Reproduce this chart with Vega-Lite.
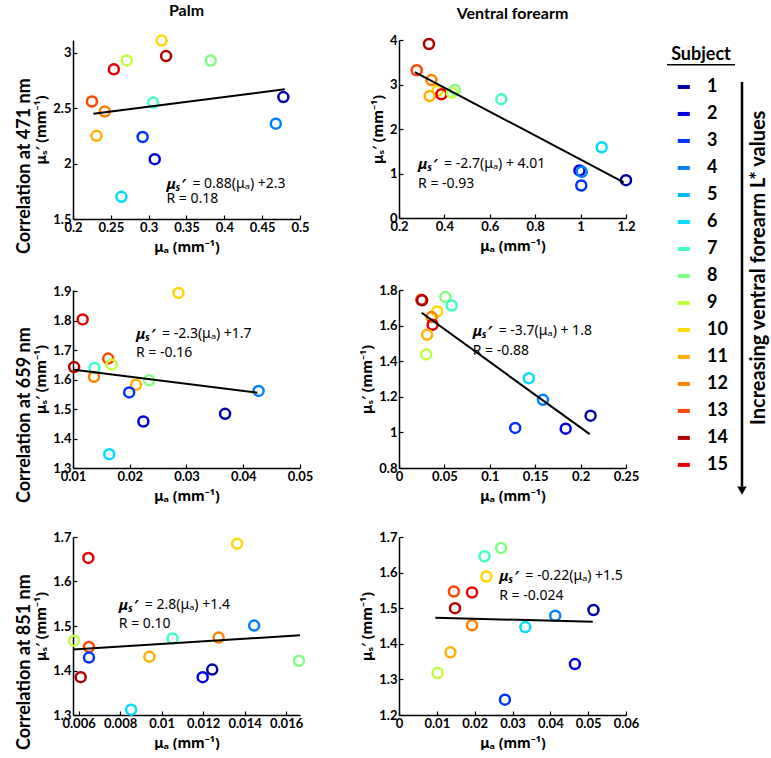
{
 "$schema": "https://vega.github.io/schema/vega-lite/v6.json",
 "padding": {"left": 15, "top": 2, "right": 0, "bottom": 0},
 "background": "white",
 "config": {
  "font": "Lato",
  "view": {"stroke": null},
  "axis": {"labelFont": "Lato", "labelFontWeight": "bold", "labelFontSize": 13, "labelColor": "black", "labelOverlap": false, "labelFlush": false, "tickCount": 12, "titleFont": "Noto Sans", "titleFontWeight": "bold", "titleFontSize": 14, "titleColor": "black", "domainColor": "black", "domainWidth": 1.5, "tickColor": "black", "tickSize": -4, "tickWidth": 1.2, "labelPadding": 6, "grid": false},
  "axisX": {"titlePadding": 6},
  "axisY": {"titlePadding": 4},
  "title": {"font": "Lato", "fontWeight": "bold", "color": "black"},
  "text": {"font": "Noto Sans", "color": "black"}
 },
 "datasets": {
  "p1": [
   {"subject": 10, "mua": 0.317, "mus": 3.11}, {"subject": 14, "mua": 0.323, "mus": 2.97}, {"subject": 9, "mua": 0.271, "mus": 2.93},
   {"subject": 8, "mua": 0.382, "mus": 2.93}, {"subject": 15, "mua": 0.254, "mus": 2.85}, {"subject": 13, "mua": 0.225, "mus": 2.56},
   {"subject": 12, "mua": 0.242, "mus": 2.47}, {"subject": 7, "mua": 0.306, "mus": 2.55}, {"subject": 11, "mua": 0.231, "mus": 2.25},
   {"subject": 3, "mua": 0.292, "mus": 2.24}, {"subject": 2, "mua": 0.308, "mus": 2.04}, {"subject": 6, "mua": 0.264, "mus": 1.7},
   {"subject": 1, "mua": 0.478, "mus": 2.6}, {"subject": 4, "mua": 0.468, "mus": 2.36}
  ],
  "p2": [
   {"subject": 14, "mua": 0.332, "mus": 3.91}, {"subject": 13, "mua": 0.278, "mus": 3.32}, {"subject": 12, "mua": 0.343, "mus": 3.1},
   {"subject": 10, "mua": 0.37, "mus": 2.86}, {"subject": 11, "mua": 0.335, "mus": 2.74}, {"subject": 15, "mua": 0.387, "mus": 2.78},
   {"subject": 9, "mua": 0.433, "mus": 2.82}, {"subject": 8, "mua": 0.446, "mus": 2.88}, {"subject": 7, "mua": 0.651, "mus": 2.67},
   {"subject": 6, "mua": 1.093, "mus": 1.59}, {"subject": 2, "mua": 0.995, "mus": 1.07}, {"subject": 4, "mua": 1.005, "mus": 1.04},
   {"subject": 3, "mua": 1.003, "mus": 0.73}, {"subject": 1, "mua": 1.2, "mus": 0.85}
  ],
  "p3": [
   {"subject": 10, "mua": 0.0286, "mus": 1.895}, {"subject": 15, "mua": 0.0117, "mus": 1.805}, {"subject": 14, "mua": 0.0102, "mus": 1.643},
   {"subject": 7, "mua": 0.0138, "mus": 1.64}, {"subject": 12, "mua": 0.0137, "mus": 1.61}, {"subject": 13, "mua": 0.0162, "mus": 1.672},
   {"subject": 9, "mua": 0.0168, "mus": 1.652}, {"subject": 8, "mua": 0.0234, "mus": 1.598}, {"subject": 11, "mua": 0.0211, "mus": 1.583},
   {"subject": 3, "mua": 0.0199, "mus": 1.557}, {"subject": 2, "mua": 0.0224, "mus": 1.458}, {"subject": 6, "mua": 0.0164, "mus": 1.347},
   {"subject": 1, "mua": 0.0368, "mus": 1.484}, {"subject": 4, "mua": 0.0427, "mus": 1.562}
  ],
  "p4": [
   {"subject": 13, "mua": 0.0245, "mus": 1.745}, {"subject": 14, "mua": 0.0255, "mus": 1.742}, {"subject": 8, "mua": 0.051, "mus": 1.76},
   {"subject": 7, "mua": 0.058, "mus": 1.713}, {"subject": 10, "mua": 0.042, "mus": 1.679}, {"subject": 12, "mua": 0.036, "mus": 1.648},
   {"subject": 15, "mua": 0.037, "mus": 1.605}, {"subject": 11, "mua": 0.031, "mus": 1.549}, {"subject": 9, "mua": 0.03, "mus": 1.438},
   {"subject": 6, "mua": 0.143, "mus": 1.304}, {"subject": 4, "mua": 0.1585, "mus": 1.183}, {"subject": 3, "mua": 0.128, "mus": 1.025},
   {"subject": 2, "mua": 0.1836, "mus": 1.021}, {"subject": 1, "mua": 0.211, "mus": 1.094}
  ],
  "p5": [
   {"subject": 9, "mua": 0.00578, "mus": 1.467}, {"subject": 15, "mua": 0.00647, "mus": 1.653}, {"subject": 13, "mua": 0.0065, "mus": 1.453},
   {"subject": 3, "mua": 0.0065, "mus": 1.429}, {"subject": 14, "mua": 0.0061, "mus": 1.385}, {"subject": 6, "mua": 0.00853, "mus": 1.312},
   {"subject": 11, "mua": 0.00941, "mus": 1.431}, {"subject": 7, "mua": 0.01053, "mus": 1.472}, {"subject": 2, "mua": 0.01198, "mus": 1.385},
   {"subject": 1, "mua": 0.01244, "mus": 1.402}, {"subject": 12, "mua": 0.01275, "mus": 1.474}, {"subject": 10, "mua": 0.01364, "mus": 1.685},
   {"subject": 4, "mua": 0.01446, "mus": 1.501}, {"subject": 8, "mua": 0.01662, "mus": 1.422}
  ],
  "p6": [
   {"subject": 8, "mua": 0.027, "mus": 1.669}, {"subject": 7, "mua": 0.0226, "mus": 1.646}, {"subject": 10, "mua": 0.0231, "mus": 1.589},
   {"subject": 13, "mua": 0.0145, "mus": 1.547}, {"subject": 15, "mua": 0.0193, "mus": 1.544}, {"subject": 14, "mua": 0.0148, "mus": 1.5},
   {"subject": 12, "mua": 0.0193, "mus": 1.452}, {"subject": 11, "mua": 0.0136, "mus": 1.376}, {"subject": 9, "mua": 0.0102, "mus": 1.318},
   {"subject": 3, "mua": 0.028, "mus": 1.243}, {"subject": 1, "mua": 0.0514, "mus": 1.495}, {"subject": 2, "mua": 0.0465, "mus": 1.343},
   {"subject": 4, "mua": 0.0413, "mus": 1.479}, {"subject": 6, "mua": 0.0334, "mus": 1.447}
  ],
  "legend": [
   {"subject": 1}, {"subject": 2}, {"subject": 3}, {"subject": 4}, {"subject": 5}, {"subject": 6}, {"subject": 7}, {"subject": 8},
   {"subject": 9}, {"subject": 10}, {"subject": 11}, {"subject": 12}, {"subject": 13}, {"subject": 14}, {"subject": 15}
  ]
 },
 "spacing": 16,
 "resolve": {"scale": {"x": "independent", "y": "independent"}},
 "hconcat": [
  {
   "spacing": 28,
   "resolve": {"scale": {"x": "independent", "y": "independent"}},
   "vconcat": [
    {
     "title": {"text": "Correlation at 471 nm", "orient": "left", "fontSize": 18, "offset": 1},
     "spacing": 99, "bounds": "flush",
     "resolve": {"scale": {"x": "independent", "y": "independent"}},
     "hconcat": [
      {
       "width": 227, "height": 179,
       "title": {"text": "Palm", "fontSize": 16, "offset": 12},
       "layer": [
        {"data": {"name": "p1"}, "mark": {"type": "point", "shape": "circle", "filled": false, "size": 100, "strokeWidth": 2.5, "opacity": 1},
         "encoding": {
          "x": {"field": "mua", "type": "quantitative", "scale": {"domain": [0.2, 0.5], "nice": false, "zero": false}, "axis": {"title": "μₐ (mm⁻¹)", "values": [0.2, 0.25, 0.3, 0.35, 0.4, 0.45, 0.5], "format": "~g"}},
          "y": {"field": "mus", "type": "quantitative", "scale": {"domain": [1.5, 3.115], "nice": false, "zero": false}, "axis": {"title": "μₛ′ (mm⁻¹)", "values": [1.5, 2, 2.5, 3], "format": "~g"}},
          "color": {"field": "subject", "type": "nominal", "scale": {"domain": [1,2,3,4,5,6,7,8,9,10,11,12,13,14,15], "range": ["#0000A8","#0000E6","#0033FF","#0080FF","#00B8FF","#00DCFF","#40FFC0","#80FF80","#C0FF40","#FFD700","#FFB000","#FF8000","#FF4500","#B00000","#E60000"]}, "legend": null}}},
        {"data": {"values": [{"mua": 0.227, "mus": 2.45}, {"mua": 0.48, "mus": 2.67}]}, "mark": {"type": "line", "color": "black", "strokeWidth": 2},
         "encoding": {"x": {"field": "mua", "type": "quantitative"}, "y": {"field": "mus", "type": "quantitative"}}},
        {"data": {"values": [{"mua": 0.3235, "mus": 1.816, "t": "μₛ′"}]}, "mark": {"type": "text", "align": "left", "fontSize": 15, "fontWeight": "bold", "fontStyle": "italic"},
         "encoding": {"x": {"field": "mua", "type": "quantitative"}, "y": {"field": "mus", "type": "quantitative"}, "text": {"field": "t"}}},
        {"data": {"values": [{"mua": 0.3235, "mus": 1.816, "t": "= 0.88(μₐ) +2.3"}]}, "mark": {"type": "text", "align": "left", "fontSize": 14, "dx": 26},
         "encoding": {"x": {"field": "mua", "type": "quantitative"}, "y": {"field": "mus", "type": "quantitative"}, "text": {"field": "t"}}},
        {"data": {"values": [{"mua": 0.3235, "mus": 1.68, "t": "R = 0.18"}]}, "mark": {"type": "text", "align": "left", "fontSize": 14},
         "encoding": {"x": {"field": "mua", "type": "quantitative"}, "y": {"field": "mus", "type": "quantitative"}, "text": {"field": "t"}}}
       ]
      },
      {
       "width": 227, "height": 178,
       "title": {"text": "Ventral forearm", "fontSize": 16, "offset": 12},
       "layer": [
        {"data": {"name": "p2"}, "mark": {"type": "point", "shape": "circle", "filled": false, "size": 100, "strokeWidth": 2.5, "opacity": 1},
         "encoding": {
          "x": {"field": "mua", "type": "quantitative", "scale": {"domain": [0.2, 1.2], "nice": false, "zero": false}, "axis": {"title": "μₐ (mm⁻¹)", "values": [0.2, 0.4, 0.6, 0.8, 1, 1.2], "format": "~g"}},
          "y": {"field": "mus", "type": "quantitative", "scale": {"domain": [0, 4], "nice": false, "zero": false}, "axis": {"title": "μₛ′ (mm⁻¹)", "values": [0, 1, 2, 3, 4], "format": "~g"}},
          "color": {"field": "subject", "type": "nominal", "legend": null}}},
        {"data": {"values": [{"mua": 0.27, "mus": 3.28}, {"mua": 1.19, "mus": 0.8}]}, "mark": {"type": "line", "color": "black", "strokeWidth": 2},
         "encoding": {"x": {"field": "mua", "type": "quantitative"}, "y": {"field": "mus", "type": "quantitative"}}},
        {"data": {"values": [{"mua": 0.284, "mus": 1.22, "t": "μₛ′"}]}, "mark": {"type": "text", "align": "left", "fontSize": 15, "fontWeight": "bold", "fontStyle": "italic"},
         "encoding": {"x": {"field": "mua", "type": "quantitative"}, "y": {"field": "mus", "type": "quantitative"}, "text": {"field": "t"}}},
        {"data": {"values": [{"mua": 0.284, "mus": 1.22, "t": "= -2.7(μₐ) + 4.01"}]}, "mark": {"type": "text", "align": "left", "fontSize": 14, "dx": 26},
         "encoding": {"x": {"field": "mua", "type": "quantitative"}, "y": {"field": "mus", "type": "quantitative"}, "text": {"field": "t"}}},
        {"data": {"values": [{"mua": 0.284, "mus": 0.77, "t": "R = -0.93"}]}, "mark": {"type": "text", "align": "left", "fontSize": 14},
         "encoding": {"x": {"field": "mua", "type": "quantitative"}, "y": {"field": "mus", "type": "quantitative"}, "text": {"field": "t"}}}
       ]
      }
     ]
    },
    {
     "title": {"text": "Correlation at 659 nm", "orient": "left", "fontSize": 18, "offset": 1},
     "spacing": 99, "bounds": "flush",
     "resolve": {"scale": {"x": "independent", "y": "independent"}},
     "hconcat": [
      {
       "width": 227, "height": 178,
       "layer": [
        {"data": {"name": "p3"}, "mark": {"type": "point", "shape": "circle", "filled": false, "size": 100, "strokeWidth": 2.5, "opacity": 1},
         "encoding": {
          "x": {"field": "mua", "type": "quantitative", "scale": {"domain": [0.01, 0.05], "nice": false, "zero": false}, "axis": {"title": "μₐ (mm⁻¹)", "values": [0.01, 0.02, 0.03, 0.04, 0.05], "format": "~g"}},
          "y": {"field": "mus", "type": "quantitative", "scale": {"domain": [1.3, 1.905], "nice": false, "zero": false}, "axis": {"title": "μₛ′ (mm⁻¹)", "values": [1.3, 1.4, 1.5, 1.6, 1.7, 1.8, 1.9], "format": "~g"}},
          "color": {"field": "subject", "type": "nominal", "legend": null}}},
        {"data": {"values": [{"mua": 0.0102, "mus": 1.634}, {"mua": 0.0425, "mus": 1.556}]}, "mark": {"type": "line", "color": "black", "strokeWidth": 2},
         "encoding": {"x": {"field": "mua", "type": "quantitative"}, "y": {"field": "mus", "type": "quantitative"}}},
        {"data": {"values": [{"mua": 0.0211, "mus": 1.755, "t": "μₛ′"}]}, "mark": {"type": "text", "align": "left", "fontSize": 15, "fontWeight": "bold", "fontStyle": "italic"},
         "encoding": {"x": {"field": "mua", "type": "quantitative"}, "y": {"field": "mus", "type": "quantitative"}, "text": {"field": "t"}}},
        {"data": {"values": [{"mua": 0.0211, "mus": 1.755, "t": "= -2.3(μₐ) +1.7"}]}, "mark": {"type": "text", "align": "left", "fontSize": 14, "dx": 26},
         "encoding": {"x": {"field": "mua", "type": "quantitative"}, "y": {"field": "mus", "type": "quantitative"}, "text": {"field": "t"}}},
        {"data": {"values": [{"mua": 0.0211, "mus": 1.69, "t": "R = -0.16"}]}, "mark": {"type": "text", "align": "left", "fontSize": 14},
         "encoding": {"x": {"field": "mua", "type": "quantitative"}, "y": {"field": "mus", "type": "quantitative"}, "text": {"field": "t"}}}
       ]
      },
      {
       "width": 227, "height": 178,
       "layer": [
        {"data": {"name": "p4"}, "mark": {"type": "point", "shape": "circle", "filled": false, "size": 100, "strokeWidth": 2.5, "opacity": 1},
         "encoding": {
          "x": {"field": "mua", "type": "quantitative", "scale": {"domain": [0, 0.25], "nice": false, "zero": false}, "axis": {"title": "μₐ (mm⁻¹)", "values": [0, 0.05, 0.1, 0.15, 0.2, 0.25], "format": "~g"}},
          "y": {"field": "mus", "type": "quantitative", "scale": {"domain": [0.8, 1.8], "nice": false, "zero": false}, "axis": {"title": "μₛ′ (mm⁻¹)", "values": [0.8, 1, 1.2, 1.4, 1.6, 1.8], "format": "~g"}},
          "color": {"field": "subject", "type": "nominal", "legend": null}}},
        {"data": {"values": [{"mua": 0.025, "mus": 1.672}, {"mua": 0.21, "mus": 0.99}]}, "mark": {"type": "line", "color": "black", "strokeWidth": 2},
         "encoding": {"x": {"field": "mua", "type": "quantitative"}, "y": {"field": "mus", "type": "quantitative"}}},
        {"data": {"values": [{"mua": 0.0811, "mus": 1.57, "t": "μₛ′"}]}, "mark": {"type": "text", "align": "left", "fontSize": 15, "fontWeight": "bold", "fontStyle": "italic"},
         "encoding": {"x": {"field": "mua", "type": "quantitative"}, "y": {"field": "mus", "type": "quantitative"}, "text": {"field": "t"}}},
        {"data": {"values": [{"mua": 0.0811, "mus": 1.57, "t": "= -3.7(μₐ) + 1.8"}]}, "mark": {"type": "text", "align": "left", "fontSize": 14, "dx": 26},
         "encoding": {"x": {"field": "mua", "type": "quantitative"}, "y": {"field": "mus", "type": "quantitative"}, "text": {"field": "t"}}},
        {"data": {"values": [{"mua": 0.0811, "mus": 1.456, "t": "R = -0.88"}]}, "mark": {"type": "text", "align": "left", "fontSize": 14},
         "encoding": {"x": {"field": "mua", "type": "quantitative"}, "y": {"field": "mus", "type": "quantitative"}, "text": {"field": "t"}}}
       ]
      }
     ]
    },
    {
     "title": {"text": "Correlation at 851 nm", "orient": "left", "fontSize": 18, "offset": 1},
     "spacing": 99, "bounds": "flush",
     "resolve": {"scale": {"x": "independent", "y": "independent"}},
     "hconcat": [
      {
       "width": 227, "height": 178,
       "layer": [
        {"data": {"name": "p5"}, "mark": {"type": "point", "shape": "circle", "filled": false, "size": 100, "strokeWidth": 2.5, "opacity": 1},
         "encoding": {
          "x": {"field": "mua", "type": "quantitative", "scale": {"domain": [0.00573, 0.01667], "nice": false, "zero": false}, "axis": {"title": "μₐ (mm⁻¹)", "values": [0.006, 0.008, 0.01, 0.012, 0.014, 0.016], "format": "~g"}},
          "y": {"field": "mus", "type": "quantitative", "scale": {"domain": [1.3, 1.7], "nice": false, "zero": false}, "axis": {"title": "μₛ′ (mm⁻¹)", "values": [1.3, 1.4, 1.5, 1.6, 1.7], "format": "~g"}},
          "color": {"field": "subject", "type": "nominal", "legend": null}}},
        {"data": {"values": [{"mua": 0.00573, "mus": 1.447}, {"mua": 0.01667, "mus": 1.479}]}, "mark": {"type": "line", "color": "black", "strokeWidth": 2},
         "encoding": {"x": {"field": "mua", "type": "quantitative"}, "y": {"field": "mus", "type": "quantitative"}}},
        {"data": {"values": [{"mua": 0.00794, "mus": 1.548, "t": "μₛ′"}]}, "mark": {"type": "text", "align": "left", "fontSize": 15, "fontWeight": "bold", "fontStyle": "italic"},
         "encoding": {"x": {"field": "mua", "type": "quantitative"}, "y": {"field": "mus", "type": "quantitative"}, "text": {"field": "t"}}},
        {"data": {"values": [{"mua": 0.00794, "mus": 1.548, "t": "= 2.8(μₐ) +1.4"}]}, "mark": {"type": "text", "align": "left", "fontSize": 14, "dx": 26},
         "encoding": {"x": {"field": "mua", "type": "quantitative"}, "y": {"field": "mus", "type": "quantitative"}, "text": {"field": "t"}}},
        {"data": {"values": [{"mua": 0.00794, "mus": 1.504, "t": "R = 0.10"}]}, "mark": {"type": "text", "align": "left", "fontSize": 14},
         "encoding": {"x": {"field": "mua", "type": "quantitative"}, "y": {"field": "mus", "type": "quantitative"}, "text": {"field": "t"}}}
       ]
      },
      {
       "width": 227, "height": 178,
       "layer": [
        {"data": {"name": "p6"}, "mark": {"type": "point", "shape": "circle", "filled": false, "size": 100, "strokeWidth": 2.5, "opacity": 1},
         "encoding": {
          "x": {"field": "mua", "type": "quantitative", "scale": {"domain": [0, 0.06], "nice": false, "zero": false}, "axis": {"title": "μₐ (mm⁻¹)", "values": [0, 0.01, 0.02, 0.03, 0.04, 0.05, 0.06], "format": "~g"}},
          "y": {"field": "mus", "type": "quantitative", "scale": {"domain": [1.2, 1.7], "nice": false, "zero": false}, "axis": {"title": "μₛ′ (mm⁻¹)", "values": [1.2, 1.3, 1.4, 1.5, 1.6, 1.7], "format": "~g"}},
          "color": {"field": "subject", "type": "nominal", "legend": null}}},
        {"data": {"values": [{"mua": 0.0096, "mus": 1.473}, {"mua": 0.0512, "mus": 1.462}]}, "mark": {"type": "line", "color": "black", "strokeWidth": 2},
         "encoding": {"x": {"field": "mua", "type": "quantitative"}, "y": {"field": "mus", "type": "quantitative"}}},
        {"data": {"values": [{"mua": 0.0265, "mus": 1.59, "t": "μₛ′"}]}, "mark": {"type": "text", "align": "left", "fontSize": 15, "fontWeight": "bold", "fontStyle": "italic"},
         "encoding": {"x": {"field": "mua", "type": "quantitative"}, "y": {"field": "mus", "type": "quantitative"}, "text": {"field": "t"}}},
        {"data": {"values": [{"mua": 0.0265, "mus": 1.59, "t": "= -0.22(μₐ) +1.5"}]}, "mark": {"type": "text", "align": "left", "fontSize": 14, "dx": 26},
         "encoding": {"x": {"field": "mua", "type": "quantitative"}, "y": {"field": "mus", "type": "quantitative"}, "text": {"field": "t"}}},
        {"data": {"values": [{"mua": 0.0265, "mus": 1.534, "t": "R = -0.024"}]}, "mark": {"type": "text", "align": "left", "fontSize": 14},
         "encoding": {"x": {"field": "mua", "type": "quantitative"}, "y": {"field": "mus", "type": "quantitative"}, "text": {"field": "t"}}}
       ]
      }
     ]
    }
   ]
  },
  {
   "width": 120, "height": 460,
   "data": {"name": "legend"},
   "layer": [
    {"mark": {"type": "rule", "strokeWidth": 4},
     "encoding": {
      "x": {"datum": 0.19, "type": "quantitative", "scale": {"domain": [0, 1], "nice": false, "zero": false}, "axis": null},
      "x2": {"datum": 0.29},
      "y": {"field": "subject", "type": "quantitative", "scale": {"domain": [-0.74, 16.3], "reverse": true, "nice": false, "zero": false}, "axis": null},
      "color": {"field": "subject", "type": "nominal", "legend": null}}},
    {"mark": {"type": "text", "align": "left", "fontSize": 18, "fontWeight": "bold", "font": "Lato"},
     "encoding": {"x": {"datum": 0.433, "type": "quantitative"}, "y": {"field": "subject", "type": "quantitative"}, "text": {"field": "subject"}}},
    {"data": {"values": [{"t": "Subject"}]}, "mark": {"type": "text", "align": "center", "fontSize": 18, "fontWeight": "bold", "font": "Lato"},
     "encoding": {"x": {"datum": 0.383, "type": "quantitative"}, "y": {"datum": -0.19, "type": "quantitative"}, "text": {"field": "t"}}},
    {"data": {"values": [{}]}, "mark": {"type": "rule", "strokeWidth": 1.5, "color": "black"},
     "encoding": {"x": {"datum": 0.1, "type": "quantitative"}, "x2": {"datum": 0.667}, "y": {"datum": 0.18, "type": "quantitative"}}},
    {"data": {"values": [{}]}, "mark": {"type": "rule", "strokeWidth": 2.5, "color": "black"},
     "encoding": {"x": {"datum": 0.725, "type": "quantitative"}, "y": {"datum": 0.82, "type": "quantitative"}, "y2": {"datum": 15.8}}},
    {"data": {"values": [{}]}, "mark": {"type": "point", "shape": "triangle-down", "filled": true, "color": "black", "size": 90, "opacity": 1},
     "encoding": {"x": {"datum": 0.725, "type": "quantitative"}, "y": {"datum": 15.95, "type": "quantitative"}}},
    {"data": {"values": [{"t": "Increasing ventral forearm L* values"}]}, "mark": {"type": "text", "angle": 270, "align": "center", "baseline": "middle", "fontSize": 20, "fontWeight": "bold", "font": "Lato"},
     "encoding": {"x": {"datum": 0.87, "type": "quantitative"}, "y": {"datum": 7.7, "type": "quantitative"}, "text": {"field": "t"}}}
   ]
  }
 ]
}
